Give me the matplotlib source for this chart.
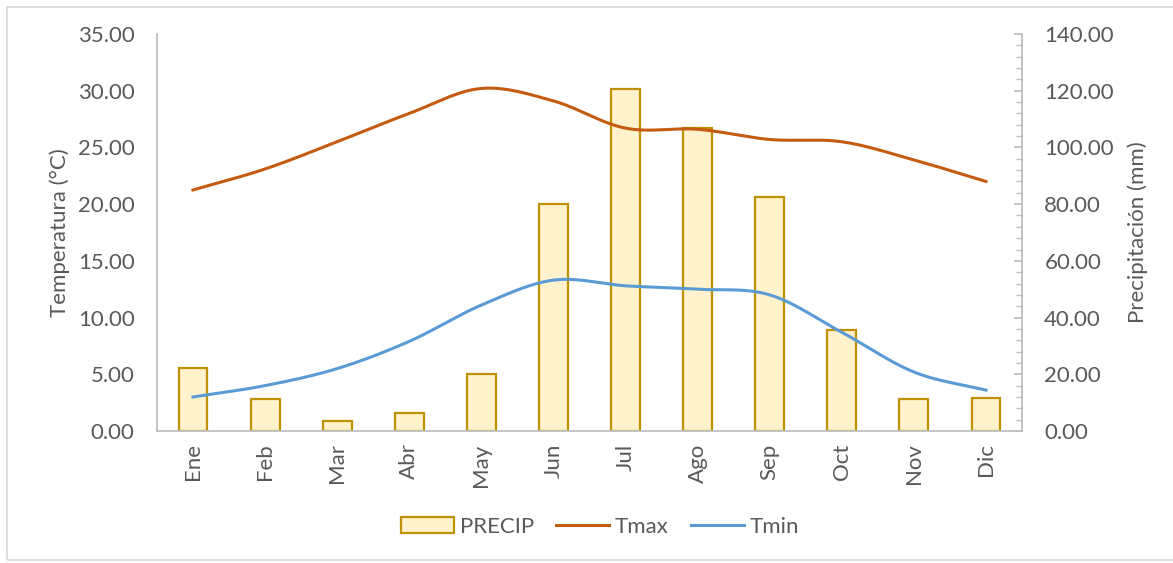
import matplotlib.pyplot as plt
import matplotlib.patches as mpatches
from matplotlib.lines import Line2D
from matplotlib.ticker import MultipleLocator, FormatStrFormatter
import numpy as np

plt.rcParams['font.family'] = ['Lato', 'DejaVu Sans']

meses = ['Ene', 'Feb', 'Mar', 'Abr', 'May', 'Jun', 'Jul', 'Ago', 'Sep', 'Oct', 'Nov', 'Dic']
precip = [22.3, 11.4, 3.5, 6.2, 20.2, 80.0, 120.6, 106.8, 82.5, 35.6, 11.3, 11.6]   # mm
tmax = [21.25, 23.1, 25.5, 28.0, 30.2, 29.1, 26.7, 26.6, 25.7, 25.5, 23.9, 22.0]
tmin = [3.0, 4.0, 5.5, 7.9, 11.1, 13.3, 12.8, 12.5, 12.0, 8.7, 5.2, 3.6]

grey = '#595959'
axis_grey = '#BFBFBF'

def smooth(y, n=30):                            # catmull-rom, like excel smoothed lines
    y = np.asarray(y, float)
    x = np.arange(len(y), dtype=float)
    xs, ys = [], []
    for i in range(len(y) - 1):
        p0 = y[i - 1] if i > 0 else y[i]
        p3 = y[i + 2] if i + 2 < len(y) else y[i + 1]
        m1 = (y[i + 1] - p0) / (2 if i > 0 else 1)
        m2 = (p3 - y[i]) / (2 if i + 2 < len(y) else 1)
        t = np.linspace(0, 1, n)
        h00 = 2*t**3 - 3*t**2 + 1
        h10 = t**3 - 2*t**2 + t
        h01 = -2*t**3 + 3*t**2
        h11 = t**3 - t**2
        xs.append(x[i] + t)
        ys.append(h00*y[i] + h10*m1 + h01*y[i + 1] + h11*m2)
    return np.concatenate(xs), np.concatenate(ys)

fig = plt.figure(figsize=(11.73, 5.63), dpi=100)
ax = fig.add_axes([0.1338, 0.2345, 0.8713 - 0.1338, 0.9396 - 0.2345])
ax2 = ax.twinx()

x = np.arange(len(meses))
ax2.bar(x, precip, width=0.4, color='#FFF2CC', edgecolor='#BF9000', linewidth=1.6, zorder=1)
ax2.set_ylim(0, 140)
ax2.yaxis.set_major_locator(MultipleLocator(20))
ax2.yaxis.set_minor_locator(MultipleLocator(4))
ax2.yaxis.set_major_formatter(FormatStrFormatter('%.2f'))

xs, ys = smooth(tmax)
ax.plot(xs, ys, color='#C55A11', lw=2.2, zorder=3)
xs, ys = smooth(tmin)
ax.plot(xs, ys, color='#5B9BD5', lw=2.2, zorder=3)
ax.set_zorder(ax2.get_zorder() + 1)
ax.patch.set_visible(False)

ax.set_ylim(0, 35)
ax.set_xlim(-0.5, 11.5)
ax.yaxis.set_major_locator(MultipleLocator(5))
ax.yaxis.set_major_formatter(FormatStrFormatter('%.2f'))
ax.set_xticks(x)
ax.set_xticklabels(meses, rotation=90)

for a in (ax, ax2):
    for s in a.spines.values():
        s.set_visible(False)
ax.spines['left'].set_visible(True)
ax.spines['bottom'].set_visible(True)
ax2.spines['right'].set_visible(True)
for s in ('left', 'bottom'):
    ax.spines[s].set_color(axis_grey)
    ax.spines[s].set_linewidth(1.3)
ax2.spines['right'].set_color(axis_grey)
ax2.spines['right'].set_linewidth(1.3)

ax.tick_params(axis='y', length=0, labelsize=16, labelcolor=grey, pad=16)
ax.tick_params(axis='x', length=0, labelsize=16, labelcolor=grey, pad=9)
ax2.tick_params(axis='y', which='major', direction='in', length=6, width=1.3, color=axis_grey,
                labelsize=16, labelcolor=grey, pad=16)
ax2.tick_params(axis='y', which='minor', direction='in', length=4, width=1.0, color=axis_grey)

ax.set_ylabel('Temperatura (°C)', fontsize=16, color=grey, labelpad=6)
ax2.set_ylabel('Precipitación (mm)', fontsize=16, color=grey, labelpad=10)

handles = [mpatches.Patch(facecolor='#FFF2CC', edgecolor='#BF9000', linewidth=1.6),
           Line2D([], [], color='#C55A11', lw=2.2),
           Line2D([], [], color='#5B9BD5', lw=2.2)]
leg = fig.legend(handles, ['PRECIP', 'Tmax', 'Tmin'], loc='center', bbox_to_anchor=(0.5115, 0.064),
                 ncol=3, frameon=False, fontsize=16, handlelength=2.4, handleheight=0.7,
                 columnspacing=1.0, handletextpad=0.25)
for t in leg.get_texts():
    t.set_color(grey)

fig.patches.append(mpatches.Rectangle((0.006, 0.005), 1.2, 0.982, transform=fig.transFigure,
                                      fill=False, edgecolor='#D9D9D9', linewidth=1.2))

fig.savefig('out.png', dpi=100)
